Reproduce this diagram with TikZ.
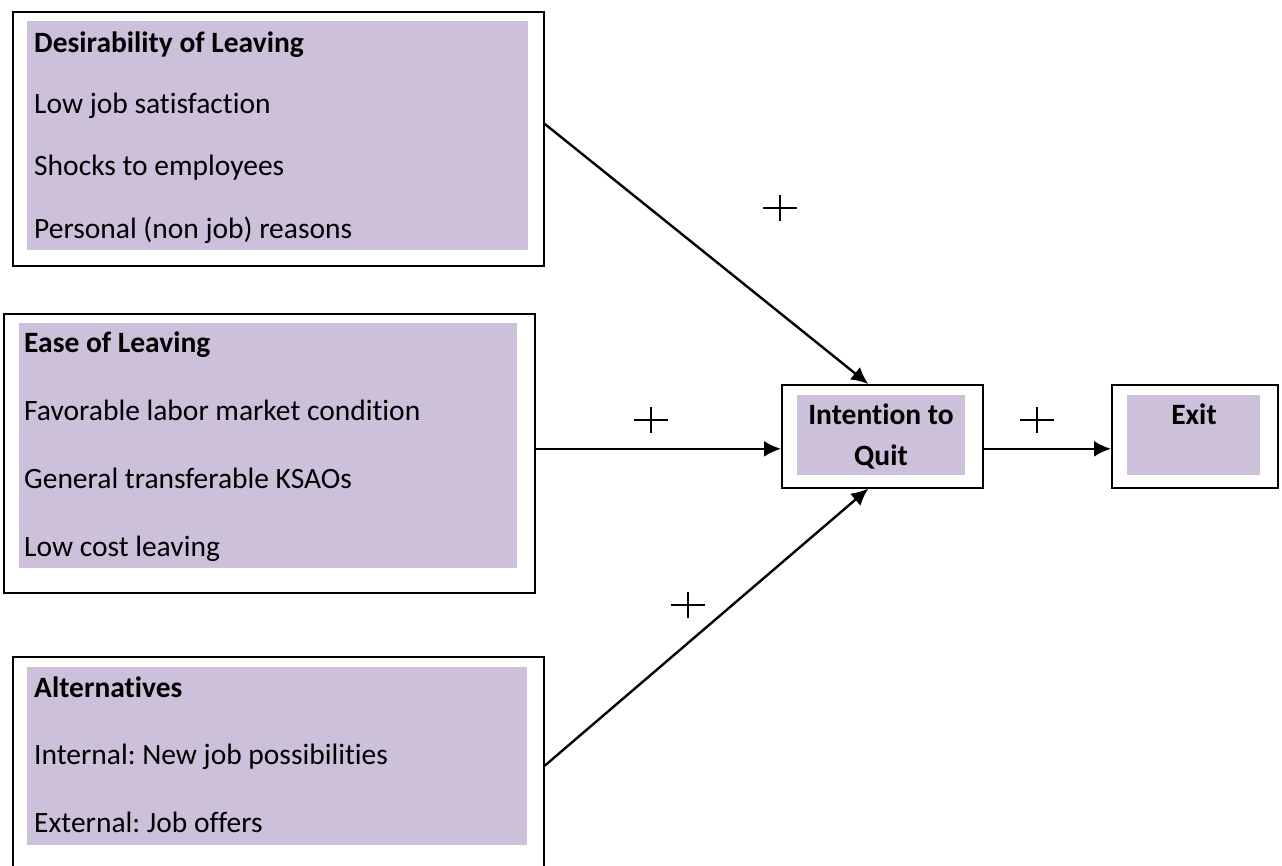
\documentclass[tikz,border=0pt]{standalone}
\usepackage{fontspec}
\setmainfont[Ligatures={NoCommon}]{Carlito}
\frenchspacing
\usetikzlibrary{arrows.meta}
\tikzset{>={Latex[width=16pt,length=17pt]}}
\definecolor{lilac}{HTML}{CCC0DA}
\tikzset{
  outerbox/.style={draw, line width=1.6pt, fill=white, anchor=north west, inner sep=0pt},
  fillbox/.style={fill=lilac, anchor=north west, inner sep=0pt},
  txt/.style={anchor=base west, inner sep=0pt, font=\fontsize{29.5}{35}\selectfont},
  head/.style={txt, font=\fontsize{29.5}{35}\selectfont\bfseries},
  mid/.style={anchor=base, inner sep=0pt, font=\fontsize{29.5}{35}\selectfont\bfseries},
  sign/.style={minimum size=34pt, inner sep=0pt,
    path picture={
      \draw[line width=1.5pt] (path picture bounding box.west) -- (path picture bounding box.east);
      \draw[line width=1.5pt] ([yshift=-4pt]path picture bounding box.north) -- ([yshift=4pt]path picture bounding box.south);
    }},
  link/.style={->, line width=2.4pt}
}

\begin{document}
\begin{tikzpicture}[x=1pt, y=-1pt]

  \path[use as bounding box, clip] (0,0) rectangle (1282,865);

  %% left boxes
  \node[outerbox, minimum width=531, minimum height=254] (des) at (12,11) {};
  \node[fillbox, minimum width=501, minimum height=229] (desfill) at (27,21) {};
  \node[head] (des0) at (34,52) {Desirability of Leaving};
  \node[txt] (des1) at (34,113) {Low job satisfaction};
  \node[txt] (des2) at (34,175) {Shocks to employees};
  \node[txt] (des3) at (34,238) {Personal (non job) reasons};

  \node[outerbox, minimum width=531, minimum height=279] (ease) at (3,313) {};
  \node[fillbox, minimum width=498, minimum height=245] (easefill) at (19,323) {};
  \node[head] (ease0) at (24,352) {Ease of Leaving};
  \node[txt] (ease1) at (24,420) {Favorable labor market condition};
  \node[txt] (ease2) at (24,488) {General transferable KSAOs};
  \node[txt] (ease3) at (24,556) {Low cost leaving};

  \node[outerbox, minimum width=531, minimum height=254] (alt) at (12,656) {};
  \node[fillbox, minimum width=500, minimum height=178] (altfill) at (27,667) {};
  \node[head] (alt0) at (34,697) {Alternatives};
  \node[txt] (alt1) at (34,764) {Internal: New job possibilities};
  \node[txt] (alt2) at (34,832) {External: Job offers};

  %% right boxes
  \node[outerbox, minimum width=201, minimum height=103] (int) at (781,384) {};
  \node[fillbox, minimum width=168, minimum height=80] (intfill) at (797,395) {};
  \node[mid] (int1) at (881,424) {Intention to};
  \node[mid] (int2) at (881,465) {Quit};

  \node[outerbox, minimum width=166, minimum height=103] (exit) at (1111,384) {};
  \node[fillbox, minimum width=133, minimum height=80] (exitfill) at (1127,395) {};
  \node[mid] (exit1) at (1194,424) {Exit};

  %% connectors
  \draw[link] ([yshift=15pt]des.east) -- ([xshift=-14pt]int.north);
  \draw[link] ([yshift=4.5pt]ease.east) -- ([yshift=-12.5pt]int.west);
  \draw[link] ([yshift=18pt]alt.east) -- ([xshift=-14pt]int.south);
  \draw[link] ([yshift=-12.5pt]int.east) -- ([yshift=-12.5pt]exit.west);

  \node[sign] (p1) at (780,208) {};
  \node[sign] (p2) at (651,420) {};
  \node[sign] (p3) at (688,605) {};
  \node[sign] (p4) at (1037,420) {};

\end{tikzpicture}
\end{document}
